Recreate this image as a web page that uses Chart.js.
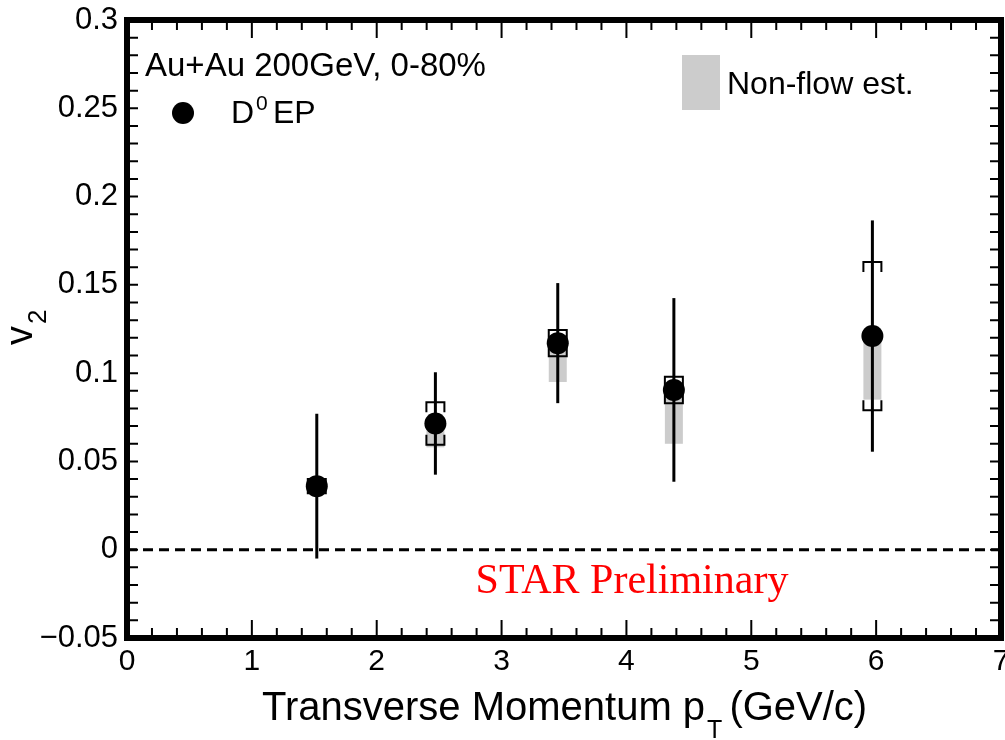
<!DOCTYPE html>
<html>
<head>
<meta charset="utf-8">
<script src="https://cdn.jsdelivr.net/npm/chart.js@4.4.1/dist/chart.umd.min.js"></script>
<style>
body { margin: 0; background: #fff; }
#wrap { width: 1005px; height: 740px; }
</style>
</head>
<body>
<div id="wrap"><canvas id="myChart" width="1005" height="740"></canvas></div>
<script>
// D0 v2 vs pT
var ptValues = [1.52, 2.47, 3.45, 4.38, 5.97];
var v2Values = [0.036, 0.0715, 0.117, 0.0905, 0.121];
var statErr = [0.041, 0.029, 0.034, 0.052, 0.0655];
var sysErr = [0.004, 0.012, 0.0075, 0.0075, 0.042];
var nonflowLow = [0.034, 0.058, 0.095, 0.060, 0.085];

var xTicks = [0, 1, 2, 3, 4, 5, 6, 7];
var xTickLabels = ['0', '1', '2', '3', '4', '5', '6', '7'];
var yTicks = [-0.05, 0, 0.05, 0.1, 0.15, 0.2, 0.25, 0.3];
var yTickLabels = ['\u22120.05', '0', '0.05', '0.1', '0.15', '0.2', '0.25', '0.3'];

var FONT = '"Liberation Sans", Arial, sans-serif';

var decorPlugin = {
    id: 'decor',
    beforeDatasetsDraw: function (chart) {
        var ctx = chart.ctx;
        var xs = chart.scales.x, ys = chart.scales.y;
        ctx.save();
        // non-flow estimate boxes
        ctx.fillStyle = '#cccccc';
        for (var i = 0; i < ptValues.length; i++) {
            var px = xs.getPixelForValue(ptValues[i]);
            var top = ys.getPixelForValue(v2Values[i]);
            var bot = ys.getPixelForValue(nonflowLow[i]);
            ctx.fillRect(px - 9, top, 18, bot - top);
        }
        // statistical error bars
        ctx.strokeStyle = '#000';
        ctx.lineWidth = 3;
        for (var i = 0; i < ptValues.length; i++) {
            var px = xs.getPixelForValue(ptValues[i]);
            ctx.beginPath();
            ctx.moveTo(px, ys.getPixelForValue(v2Values[i] + statErr[i]));
            ctx.lineTo(px, ys.getPixelForValue(v2Values[i] - statErr[i]));
            ctx.stroke();
        }
        // systematic brackets
        ctx.lineWidth = 2;
        for (var i = 0; i < ptValues.length; i++) {
            var px = xs.getPixelForValue(ptValues[i]);
            var hi = ys.getPixelForValue(v2Values[i] + sysErr[i]);
            var lo = ys.getPixelForValue(v2Values[i] - sysErr[i]);
            ctx.beginPath();
            ctx.moveTo(px - 9, hi + 10); ctx.lineTo(px - 9, hi); ctx.lineTo(px + 9, hi); ctx.lineTo(px + 9, hi + 10);
            ctx.moveTo(px - 9, lo - 10); ctx.lineTo(px - 9, lo); ctx.lineTo(px + 9, lo); ctx.lineTo(px + 9, lo - 10);
            ctx.stroke();
        }
        ctx.restore();
    },
    afterDraw: function (chart) {
        var ctx = chart.ctx;
        var a = chart.chartArea;
        var xs = chart.scales.x, ys = chart.scales.y;
        ctx.save();

        // ticks inside the frame
        ctx.strokeStyle = '#000';
        ctx.lineWidth = 2;
        ctx.beginPath();
        for (var i = 0; i <= 35; i++) {
            var px = xs.getPixelForValue(i * 0.2);
            var len = (i % 5 === 0) ? 18 : 10;
            ctx.moveTo(px, a.bottom); ctx.lineTo(px, a.bottom - len);
            ctx.moveTo(px, a.top); ctx.lineTo(px, a.top + len);
        }
        for (var j = 0; j <= 35; j++) {
            var py = ys.getPixelForValue(-0.05 + j * 0.01);
            ctx.moveTo(a.left, py); ctx.lineTo(a.left + 11, py);
            ctx.moveTo(a.right, py); ctx.lineTo(a.right - 11, py);
        }
        ctx.stroke();

        // frame
        ctx.lineWidth = 6;
        ctx.strokeRect(a.left, a.top, a.right - a.left, a.bottom - a.top);

        ctx.fillStyle = '#000';
        ctx.textBaseline = 'alphabetic';
        ctx.textAlign = 'left';

        // legend
        ctx.font = '33px ' + FONT;
        ctx.fillText('Au+Au 200GeV, 0-80%', 145, 76);
        ctx.beginPath();
        ctx.arc(183, 113, 11, 0, Math.PI * 2);
        ctx.fill();
        ctx.font = '32px ' + FONT;
        ctx.fillText('D', 231, 123);
        var wd = ctx.measureText('D').width;
        ctx.font = '21px ' + FONT;
        ctx.fillText('0', 231 + wd + 2, 110);
        ctx.font = '32px ' + FONT;
        ctx.fillText('EP', 273, 123);

        ctx.fillStyle = '#cccccc';
        ctx.fillRect(682, 55, 38, 55);
        ctx.fillStyle = '#000';
        ctx.font = '32px ' + FONT;
        ctx.fillText('Non-flow est.', 727, 94);

        // preliminary label
        ctx.fillStyle = '#ff0000';
        ctx.font = '42px "Liberation Serif", "Times New Roman", serif';
        ctx.textAlign = 'center';
        ctx.fillText('STAR Preliminary', 632, 593);

        // x title
        ctx.fillStyle = '#000';
        ctx.textAlign = 'left';
        var x0 = 262;
        var t1 = 'Transverse Momentum p';
        ctx.font = '40px ' + FONT;
        ctx.fillText(t1, x0, 720);
        var w1 = ctx.measureText(t1).width;
        ctx.font = '25px ' + FONT;
        ctx.fillText('T', x0 + w1 + 2, 738);
        var w2 = ctx.measureText('T').width;
        ctx.font = '40px ' + FONT;
        ctx.fillText('(GeV/c)', x0 + w1 + w2 + 9, 720);

        // y title
        ctx.translate(32, 345);
        ctx.rotate(-Math.PI / 2);
        ctx.font = '38px ' + FONT;
        ctx.fillText('v', 0, 0);
        var wv = ctx.measureText('v').width;
        ctx.font = '26px ' + FONT;
        ctx.fillText('2', wv + 2, 14);

        ctx.restore();
    }
};

var ctx = document.getElementById('myChart').getContext('2d');
var myChart = new Chart(ctx, {
    type: 'scatter',
    data: {
        datasets: [{
            label: 'D0 EP',
            data: ptValues.map(function (x, i) { return { x: x, y: v2Values[i] }; }),
            pointRadius: 11,
            pointBackgroundColor: '#000',
            pointBorderWidth: 0,
            order: 0
        }, {
            type: 'line',
            label: 'zero',
            data: [{ x: 0, y: 0 }, { x: 7, y: 0 }],
            borderColor: '#000',
            borderWidth: 3,
            borderDash: [10, 6],
            pointRadius: 0,
            order: 1
        }]
    },
    options: {
        responsive: false,
        animation: false,
        layout: { autoPadding: false, padding: { top: 20, right: 4, left: 0, bottom: 0 } },
        plugins: { legend: { display: false }, tooltip: { enabled: false } },
        scales: {
            x: {
                type: 'linear', min: 0, max: 7,
                grid: { display: false, drawTicks: false },
                border: { display: false },
                ticks: {
                    color: '#000', font: { family: FONT, size: 30 }, padding: 6,
                    maxRotation: 0, autoSkip: false,
                    callback: function (v, i) { return xTickLabels[i]; }
                },
                afterBuildTicks: function (s) { s.ticks = xTicks.map(function (v) { return { value: v }; }); },
                afterFit: function (s) { s.height = 102; s.paddingLeft = 0; s.paddingRight = 0; }
            },
            y: {
                min: -0.05, max: 0.3,
                grid: { display: false, drawTicks: false },
                border: { display: false },
                ticks: {
                    color: '#000', font: { family: FONT, size: 31 }, padding: 9,
                    autoSkip: false,
                    callback: function (v, i) { return yTickLabels[i]; }
                },
                afterBuildTicks: function (s) { s.ticks = yTicks.map(function (v) { return { value: v }; }); },
                afterFit: function (s) { s.width = 127; s.paddingTop = 0; s.paddingBottom = 0; }
            }
        }
    },
    plugins: [decorPlugin]
});
</script>
</body>
</html>
